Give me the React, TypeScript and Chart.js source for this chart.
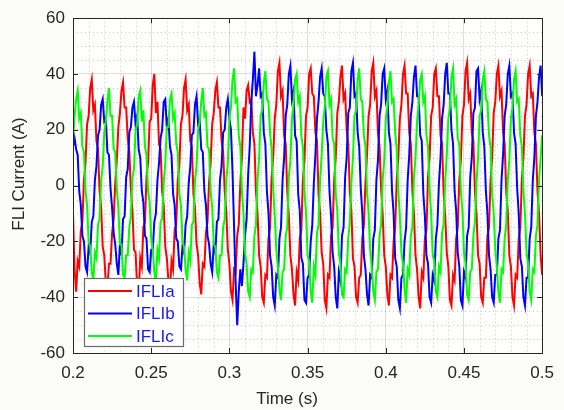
import React, { useEffect, useRef } from 'react';
import { Chart, registerables } from 'chart.js';

Chart.register(...registerables);

// Sampling of the waveforms (s)
const T_START = 0.2;
const T_STEP = 0.001;

const SERIES_NAMES = ['IFLIa', 'IFLIb', 'IFLIc'];
const SERIES_COLORS = ['#ff0000', '#0000ff', '#00ff00'];
const X_TICKS = [0.2, 0.25, 0.3, 0.35, 0.4, 0.45, 0.5];
const Y_TICKS = [-60, -40, -20, 0, 20, 40, 60];
const X_TITLE = 'Time (s)';
const Y_TITLE = 'FLI Current (A)';

const iflIa = [
  -10, -30, -38, -27, -29, -16, -13, 2, 8, 22, 25, 35, 38, 27, 29, 16, 13, -2, -8, -22,
  -25, -35, -37, -28, -28, -17, -12, 1, 9, 21, 26, 34, 37, 28, 28, 17, 12, -1, -9, -23,
  -24, -36, -39, -26, -29, -15, -13, 3, 8, 23, 24, 36, 40, 26, 30, 15, 13, -2, -7, -22,
  -26, -34, -38, -27, -30, -16, -14, 2, 7, 22, 25, 35, 38, 27, 29, 16, 14, -3, -8, -21,
  -25, -35, -39, -28, -29, -17, -13, 1, 8, 22, 26, 34, 37, 28, 28, 16, 12, -2, -9, -23,
  -28, -38, -41, -30, -31, -18, -14, 1, 10, 28, 24, 34, 36, 30, 31, 19, 15, -2, -10, -25,
  -29, -40, -42, -32, -33, -19, -15, 3, 10, 24, 29, 41, 44, 32, 34, 18, 15, -2, -11, -25,
  -30, -39, -43, -31, -34, -19, -16, 2, 9, 25, 28, 40, 42, 33, 32, 19, 16, -3, -10, -24,
  -28, -41, -44, -32, -33, -18, -15, 2, 10, 26, 30, 39, 43, 31, 33, 20, 15, -2, -9, -26,
  -29, -40, -42, -33, -32, -19, -14, 1, 11, 25, 29, 41, 44, 32, 34, 19, 14, -1, -10, -25,
  -29, -39, -43, -32, -33, -20, -15, 2, 10, 24, 29, 40, 43, 33, 33, 19, 15, -2, -10, -25,
  -30, -40, -44, -31, -33, -19, -16, 3, 10, 25, 28, 40, 42, 32, 32, 18, 15, -3, -11, -24,
  -29, -41, -43, -32, -34, -19, -15, 2, 9, 25, 29, 41, 44, 31, 33, 19, 16, -2, -10, -25,
  -28, -40, -42, -33, -33, -18, -15, 2, 10, 26, 30, 40, 43, 32, 34, 19, 15, -2, -9, -25,
  -29, -40, -43, -32, -33, -19, -15, 2, 10, 25, 29, 40, 43, 32, 33, 19, 15, -2, -10, -25,
  -32,
];

const iflIb = [
  14, 17, 13, 11, -2, -7, -18, -20, -29, -31, -22, -24, -13, -11, 2, 7, 18, 20, 29, 31,
  23, 24, 12, 11, -1, -8, -17, -21, -28, -32, -21, -25, -12, -11, 3, 6, 19, 21, 28, 30,
  22, 25, 13, 10, -2, -6, -18, -19, -30, -31, -23, -23, -13, -10, 2, 8, 17, 20, 30, 31,
  21, 24, 14, 11, -3, -7, -19, -20, -29, -30, -22, -24, -14, -11, 1, 7, 18, 19, 29, 32,
  22, 23, 13, 12, -2, -7, -18, -21, -28, -31, -21, -24, -13, -12, 2, 7, 19, 20, 28, 31,
  24, 20, 5, -15, -35, -50, -38, -30, -36, -28, -18, -12, 4, 14, 30, 38, 48, 32, 36, 42,
  32, 33, 19, 15, -2, -10, -25, -29, -40, -43, -32, -33, -19, -15, 2, 10, 25, 29, 40, 43,
  31, 34, 18, 16, -3, -9, -26, -28, -41, -42, -33, -32, -20, -14, 1, 11, 24, 30, 39, 42,
  33, 32, 20, 15, -2, -11, -24, -29, -40, -44, -31, -34, -18, -15, 3, 10, 26, 28, 41, 44,
  32, 33, 19, 14, -1, -10, -25, -30, -39, -43, -32, -33, -19, -16, 2, 9, 25, 29, 40, 42,
  31, 34, 19, 15, -2, -10, -26, -29, -41, -44, -33, -32, -20, -15, 2, 11, 25, 30, 39, 43,
  32, 32, 18, 16, -3, -11, -25, -28, -40, -42, -32, -34, -19, -14, 1, 10, 24, 29, 40, 44,
  33, 33, 20, 15, -2, -9, -24, -29, -41, -43, -31, -33, -18, -15, 3, 10, 26, 28, 41, 42,
  31, 34, 19, 14, -2, -10, -25, -30, -40, -42, -32, -32, -19, -16, 2, 11, 25, 29, 40, 43,
  32, 33, 19, 15, -1, -10, -26, -29, -40, -43, -33, -33, -19, -15, 2, 10, 25, 30, 39, 43,
  32,
];

const iflIc = [
  16, 25, 31, 34, 24, 26, 14, 12, -2, -7, -20, -22, -31, -34, -24, -26, -14, -12, 2, 7,
  19, 23, 30, 35, 25, 25, 13, 12, -1, -8, -21, -21, -32, -33, -25, -25, -15, -11, 3, 6,
  20, 22, 32, 34, 23, 27, 14, 11, -2, -6, -19, -23, -31, -35, -23, -26, -13, -12, 1, 8,
  21, 21, 31, 33, 24, 26, 15, 12, -3, -7, -20, -22, -30, -34, -24, -27, -14, -13, 2, 7,
  20, 23, 30, 35, 25, 26, 14, 13, -2, -8, -21, -22, -31, -33, -25, -25, -15, -12, 2, 8,
  24, 28, 38, 42, 30, 31, 18, 14, -2, -10, -24, -28, -38, -40, -30, -31, -18, -14, 2, 10,
  25, 27, 37, 41, 31, 30, 19, 13, -1, -11, -23, -29, -37, -41, -31, -30, -18, -15, 3, 9,
  24, 29, 38, 40, 30, 32, 18, 14, -2, -10, -25, -27, -38, -42, -29, -32, -17, -14, 2, 11,
  23, 28, 39, 41, 29, 31, 17, 15, -3, -9, -24, -28, -39, -40, -30, -31, -19, -13, 1, 10,
  25, 27, 38, 42, 31, 30, 18, 14, -2, -10, -23, -29, -38, -41, -31, -30, -18, -14, 2, 9,
  24, 28, 37, 41, 30, 31, 19, 13, -2, -11, -24, -28, -37, -42, -30, -32, -18, -15, 3, 10,
  23, 29, 38, 40, 30, 32, 18, 14, -1, -10, -25, -27, -38, -40, -29, -31, -17, -14, 2, 11,
  24, 28, 39, 42, 29, 31, 17, 15, -2, -9, -24, -28, -39, -41, -31, -30, -18, -13, 1, 10,
  25, 27, 38, 41, 31, 30, 18, 14, -3, -10, -23, -29, -38, -42, -30, -31, -19, -14, 2, 9,
  24, 28, 38, 41, 30, 31, 18, 14, -2, -10, -24, -28, -38, -41, -30, -31, -18, -14, 2, 10,
  18,
];

const SERIES_VALUES = [iflIa, iflIb, iflIc];

const FONT = '"Liberation Sans", Arial, Helvetica, sans-serif';
const AXIS_COLOR = '#262626';

const decor = {
  id: 'decor',
  beforeDraw(chart: any) {
    const { ctx, width, height, chartArea: a } = chart;
    ctx.save();
    ctx.fillStyle = '#fbfbf7';
    ctx.fillRect(0, 0, width, height);
    ctx.fillStyle = '#fefefc';
    ctx.fillRect(a.left, a.top, a.right - a.left, a.bottom - a.top);
    ctx.restore();
  },
  beforeDatasetsDraw(chart: any) {
    const { ctx, chartArea: a, scales } = chart;
    const xs = scales.x;
    const ys = scales.y;
    ctx.save();
    ctx.strokeStyle = 'rgba(0,0,0,0.22)';
    ctx.lineWidth = 1;
    ctx.setLineDash([1, 3]);
    for (let k = 1; k < 30; k++) {
      if (k % 5 === 0) continue;
      const px = Math.round(xs.getPixelForValue(0.2 + k * 0.01)) + 0.5;
      ctx.beginPath();
      ctx.moveTo(px, a.top);
      ctx.lineTo(px, a.bottom);
      ctx.stroke();
    }
    for (let v = -55; v < 60; v += 5) {
      if (v % 20 === 0) continue;
      const py = Math.round(ys.getPixelForValue(v)) + 0.5;
      ctx.beginPath();
      ctx.moveTo(a.left, py);
      ctx.lineTo(a.right, py);
      ctx.stroke();
    }
    ctx.restore();
  },
  afterDatasetsDraw(chart: any) {
    const { ctx, chartArea: a, scales } = chart;
    const xs = scales.x;
    const ys = scales.y;
    ctx.save();
    // axes box
    ctx.strokeStyle = AXIS_COLOR;
    ctx.lineWidth = 1;
    ctx.strokeRect(Math.round(a.left) + 0.5, Math.round(a.top) + 0.5, Math.round(a.right - a.left), Math.round(a.bottom - a.top));
    // inward ticks
    const tl = 5;
    ctx.beginPath();
    X_TICKS.forEach((v) => {
      const px = Math.round(xs.getPixelForValue(v)) + 0.5;
      ctx.moveTo(px, a.bottom);
      ctx.lineTo(px, a.bottom - tl);
      ctx.moveTo(px, a.top);
      ctx.lineTo(px, a.top + tl);
    });
    Y_TICKS.forEach((v) => {
      const py = Math.round(ys.getPixelForValue(v)) + 0.5;
      ctx.moveTo(a.left, py);
      ctx.lineTo(a.left + tl, py);
      ctx.moveTo(a.right, py);
      ctx.lineTo(a.right - tl, py);
    });
    ctx.stroke();

    // legend box inside plot (lower-left)
    const lx = a.left + 11;
    const ly = a.bottom - 75;
    const lw = 99;
    const lh = 68;
    ctx.fillStyle = '#ffffff';
    ctx.fillRect(lx, ly, lw, lh);
    ctx.strokeStyle = '#6b6b6b';
    ctx.lineWidth = 1.2;
    ctx.strokeRect(lx + 0.5, ly + 0.5, lw, lh);
    ctx.font = `17px ${FONT}`;
    ctx.textBaseline = 'middle';
    ctx.textAlign = 'left';
    SERIES_NAMES.forEach((name, i) => {
      const yy = ly + 13 + i * 22.5;
      ctx.strokeStyle = SERIES_COLORS[i];
      ctx.lineWidth = 2;
      ctx.beginPath();
      ctx.moveTo(lx + 4, yy);
      ctx.lineTo(lx + 48, yy);
      ctx.stroke();
      ctx.fillStyle = '#1a1aff';
      ctx.fillText(name, lx + 52, yy + 1);
    });

    // axis titles
    ctx.fillStyle = AXIS_COLOR;
    ctx.font = `17px ${FONT}`;
    ctx.textAlign = 'center';
    ctx.textBaseline = 'middle';
    ctx.fillText(X_TITLE, 287, 399);
    ctx.translate(19, 174);
    ctx.rotate(-Math.PI / 2);
    ctx.fillText(Y_TITLE, 0, 0);
    ctx.restore();
  },
};

export default function App() {
  const canvasRef = useRef<HTMLCanvasElement | null>(null);

  useEffect(() => {
    document.body.style.margin = '0';
    const canvas = canvasRef.current;
    if (!canvas) return;

    const datasets = SERIES_NAMES.map((name, i) => ({
      label: name,
      data: SERIES_VALUES[i].map((y, k) => ({ x: T_START + k * T_STEP, y })),
      borderColor: SERIES_COLORS[i],
      backgroundColor: SERIES_COLORS[i],
      borderWidth: 2,
      pointRadius: 0,
      tension: 0,
      fill: false,
      order: 2 - i,
    }));

    const chart = new Chart(canvas, {
      type: 'line',
      data: { datasets },
      options: {
        animation: false,
        responsive: false,
        devicePixelRatio: 1,
        events: [],
        layout: { padding: { top: 18, right: 18, left: 0, bottom: 0 } },
        plugins: {
          legend: { display: false },
          tooltip: { enabled: false },
          title: { display: false },
        },
        scales: {
          x: {
            type: 'linear',
            min: 0.2,
            max: 0.5,
            afterBuildTicks: (scale: any) => {
              scale.ticks = X_TICKS.map((v) => ({ value: v }));
            },
            afterFit: (scale: any) => {
              scale.height = 57;
            },
            ticks: {
              autoSkip: false,
              maxRotation: 0,
              padding: 10,
              color: AXIS_COLOR,
              font: { family: FONT, size: 17 },
              callback: (v: any) => String(Number(Number(v).toFixed(2))),
            },
            grid: { color: 'rgba(0,0,0,0.13)', lineWidth: 1, drawTicks: false },
            border: { display: false },
          },
          y: {
            type: 'linear',
            min: -60,
            max: 60,
            afterBuildTicks: (scale: any) => {
              scale.ticks = Y_TICKS.map((v) => ({ value: v }));
            },
            afterFit: (scale: any) => {
              scale.width = 73;
            },
            ticks: {
              padding: 8,
              color: AXIS_COLOR,
              font: { family: FONT, size: 17 },
              callback: (v: any) => String(v),
            },
            grid: { color: 'rgba(0,0,0,0.13)', lineWidth: 1, drawTicks: false },
            border: { display: false },
          },
        },
      },
      plugins: [decor],
    });

    return () => chart.destroy();
  }, []);

  return (
    <div style={{ width: 564, height: 410 }}>
      <canvas ref={canvasRef} width={564} height={410} style={{ display: 'block' }} />
    </div>
  );
}
